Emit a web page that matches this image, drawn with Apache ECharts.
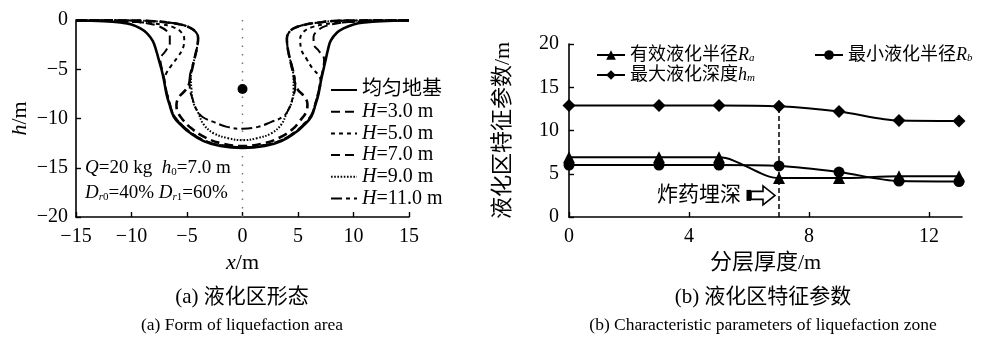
<!DOCTYPE html>
<html><head><meta charset="utf-8">
<script src="https://cdn.jsdelivr.net/npm/echarts@6/dist/echarts.min.js"></script>
<style>html,body{margin:0;padding:0;background:#fff}#c{width:992px;height:338px}</style>
</head><body><div id="c"></div>
<script>
// ---------- (a) liquefaction area outlines: [x (m), h (m)] ----------
const uniformCurve = [[-15,-0.05],[-12.5,-0.12],[-11,-0.25],[-10,-0.45],[-9.2,-0.85],[-8.6,-1.35],[-8.1,-2.1],[-7.8,-3.0],[-7.55,-4.0],[-7.3,-5.0],[-7.1,-6.0],[-6.85,-7.5],[-6.6,-8.5],[-6.2,-9.8],[-5.5,-10.7],[-4.8,-11.4],[-3.5,-12.3],[-2,-12.8],[0,-13.0],[2,-12.8],[3.5,-12.3],[4.8,-11.4],[5.5,-10.7],[6.2,-9.8],[6.6,-8.5],[6.85,-7.5],[7.1,-6.0],[7.3,-5.0],[7.5,-4.0],[7.7,-3.0],[7.95,-2.1],[8.5,-1.3],[9.1,-0.85],[10,-0.45],[11,-0.25],[12.5,-0.12],[15,-0.05]];
const h3Curve = [[-15,-0.05],[-12,-0.1],[-10,-0.18],[-8.5,-0.35],[-7.5,-0.65],[-6.85,-1.1],[-6.55,-1.7],[-6.55,-2.4],[-6.9,-3.1],[-7.4,-4.0],[-7.25,-5.0],[-7.05,-6.0],[-6.8,-7.5],[-6.55,-8.5],[-6.15,-9.75],[-5.45,-10.65],[-4.75,-11.35],[-3.5,-12.2],[-2,-12.7],[0,-12.9],[2,-12.7],[3.5,-12.2],[4.75,-11.35],[5.45,-10.65],[6.15,-9.75],[6.55,-8.5],[6.8,-7.5],[7.05,-6.0],[7.25,-5.0],[7.35,-4.0],[6.85,-3.1],[6.4,-2.4],[6.4,-1.7],[6.75,-1.1],[7.4,-0.65],[8.5,-0.35],[10,-0.18],[12,-0.1],[15,-0.05]];
const h5Curve = [[-15,-0.05],[-11,-0.12],[-9,-0.25],[-7.3,-0.45],[-6.2,-0.75],[-5.55,-1.2],[-5.25,-1.9],[-5.35,-2.8],[-5.8,-3.7],[-6.4,-4.6],[-6.9,-5.5],[-7.05,-6.2],[-6.8,-7.4],[-6.55,-8.5],[-6.15,-9.75],[-5.45,-10.65],[-4.75,-11.35],[-3.5,-12.2],[-2,-12.7],[0,-12.9],[2,-12.7],[3.5,-12.2],[4.75,-11.35],[5.45,-10.65],[6.15,-9.75],[6.55,-8.5],[6.8,-7.4],[7.05,-6.3],[6.9,-5.7],[6.3,-4.9],[5.8,-4.0],[5.3,-3.0],[5.2,-1.9],[5.5,-1.2],[6.2,-0.75],[7.3,-0.45],[9,-0.25],[11,-0.12],[15,-0.05]];
const h7Curve = [[-15,-0.02],[-10,-0.05],[-8,-0.12],[-6.8,-0.25],[-5.6,-0.45],[-4.7,-0.8],[-4.15,-1.3],[-4.0,-1.9],[-4.1,-2.8],[-4.3,-3.8],[-4.5,-4.8],[-4.7,-5.8],[-4.85,-6.6],[-5.2,-7.2],[-5.7,-7.8],[-5.95,-8.6],[-5.85,-9.3],[-5.4,-10.1],[-4.6,-11.0],[-3.4,-11.9],[-2,-12.5],[0,-12.8],[2,-12.5],[3.4,-11.9],[4.5,-11.1],[5.2,-10.2],[5.75,-9.3],[5.85,-8.5],[5.5,-7.7],[5.0,-7.1],[4.75,-6.5],[4.6,-5.6],[4.4,-4.6],[4.2,-3.6],[4.05,-2.7],[4.0,-1.9],[4.2,-1.25],[4.7,-0.8],[5.7,-0.45],[6.9,-0.25],[8.2,-0.1],[10,-0.05],[15,-0.02]];
const h9Curve = [[-15,-0.02],[-10,-0.05],[-8,-0.12],[-6.8,-0.25],[-5.6,-0.45],[-4.7,-0.8],[-4.15,-1.3],[-4.0,-1.9],[-4.1,-2.8],[-4.3,-3.8],[-4.5,-4.8],[-4.65,-5.8],[-4.6,-7.0],[-4.45,-8.3],[-4.0,-9.4],[-3.5,-10.6],[-2.6,-11.5],[-1.3,-12.0],[0,-12.2],[1.3,-12.0],[2.6,-11.5],[3.5,-10.6],[4.0,-9.4],[4.45,-8.3],[4.6,-7.0],[4.6,-5.8],[4.4,-4.6],[4.2,-3.6],[4.05,-2.7],[4.0,-1.9],[4.2,-1.25],[4.7,-0.8],[5.7,-0.45],[6.9,-0.25],[8.2,-0.1],[10,-0.05],[15,-0.02]];
const h11Curve = [[-15,-0.02],[-10,-0.05],[-8,-0.12],[-6.8,-0.25],[-5.6,-0.45],[-4.7,-0.8],[-4.15,-1.3],[-4.0,-1.9],[-4.1,-2.8],[-4.3,-3.8],[-4.55,-4.8],[-4.75,-5.8],[-4.75,-6.8],[-4.5,-8.0],[-4.1,-9.2],[-3.6,-9.85],[-2.6,-10.35],[-1.4,-10.85],[0,-11.05],[1.4,-10.85],[2.6,-10.35],[3.6,-9.85],[4.1,-9.2],[4.5,-8.0],[4.75,-6.8],[4.7,-5.8],[4.45,-4.6],[4.2,-3.6],[4.05,-2.7],[4.0,-1.9],[4.2,-1.25],[4.7,-0.8],[5.7,-0.45],[6.9,-0.25],[8.2,-0.1],[10,-0.05],[15,-0.02]];
const curveNames = ['均匀地基','H=3.0 m','H=5.0 m','H=7.0 m','H=9.0 m','H=11.0 m'];
const chargeDepth = 7.0;   // h0 = 7.0 m
const xTicksA = [-15,-10,-5,0,5,10,15];
const yTicksA = [-20,-15,-10,-5,0];

// ---------- (b) characteristic parameters ----------
const layerThickness = [0,3,5,7,9,11,13];
const Ra = [6.9,6.9,6.9,4.5,4.5,4.7,4.7];
const Rb = [6.0,6.0,6.0,5.9,5.2,4.15,4.1];
const hm = [12.9,12.9,12.9,12.8,12.2,11.15,11.1];
const xTicksB = [0,4,8,12];
const yTicksB = [0,5,10,15,20];
const paramNames = ['有效液化半径Ra','最小液化半径Rb','最大液化深度hm'];

const FONT = '"Liberation Serif","Noto Sans CJK SC",serif';
const minus = v => String(v).replace('-', '\u2212');
const pairs = (xs, ys) => xs.map((x, i) => [x, ys[i]]);

const chart = echarts.init(document.getElementById('c'), null, {renderer: 'canvas'});

const richBase = (fs) => ({
  i: {fontStyle: 'italic', fontFamily: FONT, fontSize: fs, color: '#000', lineHeight: fs},
  s: {fontStyle: 'italic', fontFamily: FONT, fontSize: Math.round(fs * 0.6), color: '#000', lineHeight: Math.round(fs * 0.55), verticalAlign: 'bottom'},
  d: {fontFamily: FONT, fontSize: Math.round(fs * 0.6), color: '#000', lineHeight: Math.round(fs * 0.55), verticalAlign: 'bottom'},
  n: {fontFamily: FONT, fontSize: fs, color: '#000', lineHeight: fs}
});

const curveStyles = [
  {width: 2.6},
  {width: 2, type: [9, 5]},
  {width: 2, type: [4, 4]},
  {width: 2.6, type: [9, 5]},
  {width: 2, type: [1.6, 1.6]},
  {width: 2, type: [11, 4, 4, 4]}
];
const curves = [uniformCurve, h3Curve, h5Curve, h7Curve, h9Curve, h11Curve];

const seriesA = curves.map((d, k) => ({
  name: curveNames[k], type: 'line', xAxisIndex: 0, yAxisIndex: 0,
  data: d, symbol: 'none', smooth: 0.4, z: 3,
  lineStyle: Object.assign({color: '#000'}, curveStyles[k]),
  itemStyle: {color: '#000'}
}));
seriesA.unshift({
  type: 'line', xAxisIndex: 0, yAxisIndex: 0, symbol: 'none', silent: true, z: 1,
  data: [[0, yTicksA[yTicksA.length - 1]], [0, yTicksA[0]]],
  lineStyle: {color: '#777', width: 1.5, type: [1.5, 7]}
});
seriesA.push({
  type: 'scatter', xAxisIndex: 0, yAxisIndex: 0, data: [[0, -chargeDepth]],
  symbolSize: 10, itemStyle: {color: '#000', opacity: 1}, z: 5, silent: true
});

const symB = ['triangle', 'circle', 'diamond'];
const sizeB = [12, 11, 13];
const valsB = [Ra, Rb, hm];
const seriesB = valsB.map((v, k) => ({
  name: paramNames[k], type: 'line', xAxisIndex: 1, yAxisIndex: 1,
  data: pairs(layerThickness, v), symbol: symB[k], symbolSize: sizeB[k],
  smooth: 0.3, z: 3,
  lineStyle: {color: '#000', width: 2}, itemStyle: {color: '#000', opacity: 1}
}));
seriesB[2].markLine = {
  silent: true, symbol: ['none', 'none'], label: {show: false},
  lineStyle: {color: '#000', width: 1.5, type: [5, 3]},
  data: [[{coord: [chargeDepth, 0]}, {coord: [chargeDepth, hm[layerThickness.indexOf(chargeDepth)]]}]]
};

const axisCommon = {
  axisLine: {onZero: false, lineStyle: {color: '#000', width: 1.6}},
  axisTick: {inside: true, length: 5, lineStyle: {color: '#000', width: 1.4}},
  splitLine: {show: false},
  axisLabel: {color: '#000', fontFamily: FONT, fontSize: 20},
  nameTextStyle: {color: '#000', fontFamily: FONT, fontSize: 22, rich: richBase(22)}
};
const ax = (o) => echarts.util.merge(echarts.util.clone(axisCommon), o, true);

const legendText = (fs) => ({color: '#000', fontFamily: FONT, fontSize: fs, lineHeight: fs, rich: richBase(fs)});
const paramFmt = n => {
  const m = n.match(/^(.*?)([Rh])([abm])$/);
  return m ? m[1] + '{i|' + m[2] + '}{s|' + m[3] + '}' : n;
};

const option = {
  animation: false,
  backgroundColor: '#fff',
  grid: [
    {left: 76, top: 20, width: 333, bottom: 121},
    {left: 569, top: 44, width: 393, bottom: 121}
  ],
  xAxis: [
    ax({type: 'value', gridIndex: 0, min: xTicksA[0], max: xTicksA[xTicksA.length - 1], interval: 5,
      name: '{i|x}/m', nameLocation: 'middle', nameGap: 35,
      axisLabel: {margin: 10, formatter: minus}}),
    ax({type: 'value', gridIndex: 1, min: 0, max: 13.1,
      name: '分层厚度/m', nameLocation: 'middle', nameGap: 35,
      axisTick: {customValues: xTicksB}, axisLabel: {margin: 10, customValues: xTicksB}})
  ],
  yAxis: [
    ax({type: 'value', gridIndex: 0, min: yTicksA[0], max: yTicksA[yTicksA.length - 1], interval: 5,
      name: '{i|h}/m', nameLocation: 'middle', nameRotate: 90, nameGap: 45,
      axisLabel: {margin: 8, formatter: minus}}),
    ax({type: 'value', gridIndex: 1, min: yTicksB[0], max: yTicksB[yTicksB.length - 1], interval: 5,
      name: '液化区特征参数/m', nameLocation: 'middle', nameRotate: 90, nameGap: 55,
      axisLabel: {margin: 10}})
  ],
  legend: [
    {data: curveNames, orient: 'vertical', left: 325, top: 75, itemWidth: 26, itemHeight: 14, itemGap: 1.7,
      selectedMode: false, itemStyle: {opacity: 0}, textStyle: legendText(20), formatter: n => n.replace(/^H/, '{i|H}')},
    {data: [paramNames[0]], left: 591, top: 41, itemWidth: 28, itemHeight: 12, selectedMode: false,
      textStyle: legendText(18), formatter: paramFmt},
    {data: [paramNames[1]], left: 809, top: 41, itemWidth: 28, itemHeight: 12, selectedMode: false,
      textStyle: legendText(18), formatter: paramFmt},
    {data: [paramNames[2]], left: 591, top: 61, itemWidth: 28, itemHeight: 12, selectedMode: false,
      textStyle: legendText(18), formatter: paramFmt}
  ],
  series: seriesA.concat(seriesB)
};
chart.setOption(option);

// ---------- annotations & captions ----------
const txt = (x, y, text, fs, align, extra) => ({
  type: 'text', silent: true, z: 10,
  style: Object.assign({
    x: x, y: y, text: text, fill: '#000', fontFamily: FONT, fontSize: fs,
    align: align || 'center', verticalAlign: 'middle',
    textAlign: align || 'center', textVerticalAlign: 'middle', rich: richBase(fs)
  }, extra || {})
});
const tip = chart.convertToPixel({gridIndex: 1}, [chargeDepth, 2.5]);
const tx = tip[0], ty = tip[1];
const x0 = tx - 28, xh = tx - 16, xt = tx - 4;
chart.setOption({
  graphic: [
    txt(85, 168, '{i|Q}=20 kg  {i|h}{d|0}=7.0 m', 19, 'left'),
    txt(85, 193, '{i|D}{s|r}{d|0}=40% {i|D}{s|r}{d|1}=60%', 19, 'left'),
    txt(tx - 38, ty, '炸药埋深', 21, 'right'),
    {type: 'rect', silent: true, z: 10, shape: {x: x0 - 4.5, y: ty - 5.5, width: 4.5, height: 11}, style: {fill: '#000'}},
    {type: 'polygon', silent: true, z: 10,
      shape: {points: [[x0, ty - 4], [xh, ty - 4], [xh, ty - 9.5], [xt, ty], [xh, ty + 9.5], [xh, ty + 4], [x0, ty + 4]]},
      style: {fill: '#fff', stroke: '#000', lineWidth: 1.6}},
    txt(242, 297, '(a) 液化区形态', 21),
    txt(242, 325, '(a) Form of liquefaction area', 17.5),
    txt(763, 297, '(b) 液化区特征参数', 21),
    txt(763, 325, '(b) Characteristic parameters of liquefaction zone', 17.5)
  ]
});
</script></body></html>
